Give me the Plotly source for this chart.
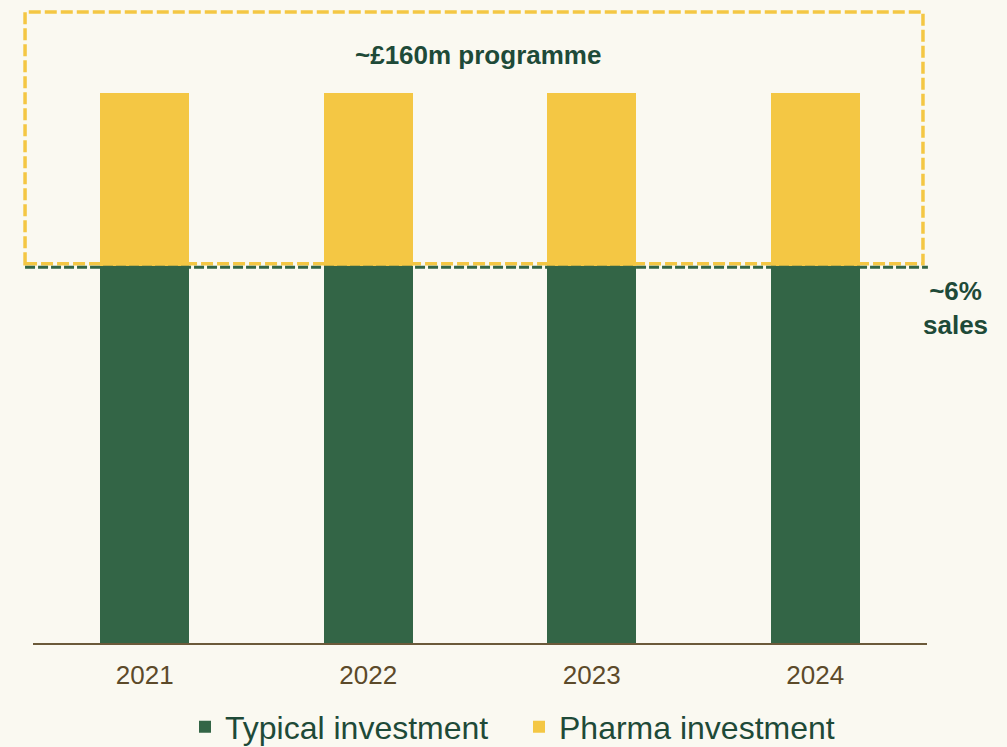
import plotly.graph_objects as go

years = ["2021", "2022", "2023", "2024"]
typical = [100, 100, 100, 100]
pharma = [46, 46, 46, 46]
threshold = 100  # ~6% of sales level

GREEN = "#336546"
YELLOW = "#F4C744"
BG = "#FAF9F1"
DARK = "#1E4A38"
TICK = "#5C4A2A"

PX_PER_UNIT = 3.77
PLOT_H = 633
ytop = PLOT_H / PX_PER_UNIT

fig = go.Figure()
fig.add_trace(go.Bar(x=years, y=typical, name="Typical investment", marker_color=GREEN,
                     marker_line_width=0, width=0.4))
fig.add_trace(go.Bar(x=years, y=pharma, name="Pharma investment", marker_color=YELLOW,
                     marker_line_width=0, width=0.4))

fig.add_shape(type="rect", xref="paper", yref="y", x0=-0.0089, x1=0.9955,
              y0=threshold + 0.6, y1=ytop - 0.5,
              line=dict(color=YELLOW, width=3.5, dash="12px,4px"),
              fillcolor="rgba(0,0,0,0)", layer="above")
fig.add_shape(type="line", xref="paper", yref="y", x0=-0.0089, x1=1.001,
              y0=threshold - 0.3, y1=threshold - 0.3,
              line=dict(color=GREEN, width=3, dash="10px,3px"), layer="above")

fig.add_annotation(text="<b>~£160m programme</b>", xref="paper", yref="y", x=(478 - 33) / 894,
                   xanchor="center", y=(643 - 55) / PX_PER_UNIT, showarrow=False,
                   font=dict(size=26, color=DARK))
fig.add_annotation(text="<b>~6%<br>sales</b>", xref="paper", yref="y", x=(955 - 33) / 894,
                   xanchor="center", y=(643 - 308) / PX_PER_UNIT, showarrow=False,
                   font=dict(size=26, color=DARK), align="center")

fig.update_layout(
    width=1007, height=775,
    barmode="stack",
    paper_bgcolor=BG, plot_bgcolor=BG,
    margin=dict(l=33, r=80, t=10, b=132),
    font=dict(family="Liberation Sans, Arial, sans-serif"),
    showlegend=True,
    legend=dict(orientation="h", x=(185 - 33) / 894, xanchor="left", y=(643 - 727) / PLOT_H,
                yanchor="middle", font=dict(size=32, color=DARK), bgcolor="rgba(0,0,0,0)",
                traceorder="normal", itemwidth=30, entrywidth=289),
    xaxis=dict(showline=True, linecolor="#6B5A3A", linewidth=1.5, ticks="outside",
               ticklen=8, tickcolor="rgba(0,0,0,0)",
               tickfont=dict(size=26, color=TICK), showgrid=False),
    yaxis=dict(range=[0, ytop], visible=False, showgrid=False),
)

fig.write_html("out.html", config={"displayModeBar": False}, post_script=(
    "document.body.style.margin='0';document.body.style.overflow='hidden';"
    "document.body.style.background='" + BG + "';"
    "document.documentElement.style.overflow='hidden';"
))
